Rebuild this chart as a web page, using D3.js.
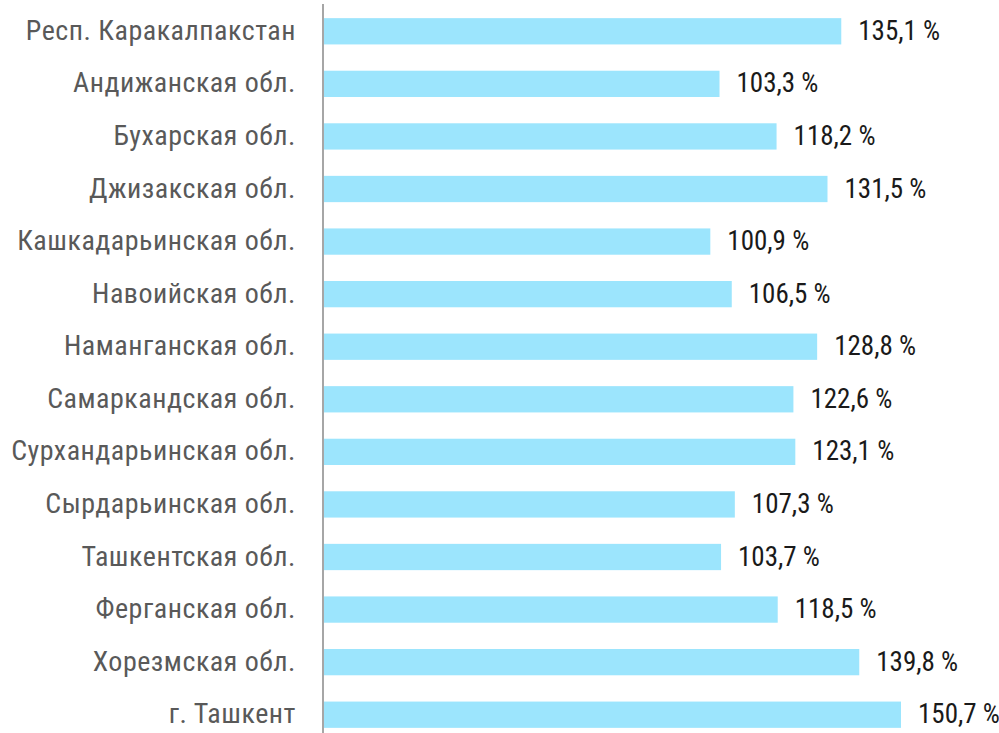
<!DOCTYPE html>
<html><head><meta charset="utf-8">
<script src="https://cdn.jsdelivr.net/npm/d3@7"></script>
<style>
html,body{margin:0;padding:0;background:#fff;}
svg text{font-family:"Roboto Condensed",Roboto,sans-serif;font-stretch:condensed;font-weight:400;}
</style></head>
<body><svg id="c" width="999" height="733"></svg>
<script>
const categories = ["Респ. Каракалпакстан","Андижанская обл.","Бухарская обл.","Джизакская обл.","Кашкадарьинская обл.","Навоийская обл.","Наманганская обл.","Самаркандская обл.","Сурхандарьинская обл.","Сырдарьинская обл.","Ташкентская обл.","Ферганская обл.","Хорезмская обл.","г. Ташкент"];
const values = [135.1,103.3,118.2,131.5,100.9,106.5,128.8,122.6,123.1,107.3,103.7,118.5,139.8,150.7];
const valueLabels = ["135,1 %","103,3 %","118,2 %","131,5 %","100,9 %","106,5 %","128,8 %","122,6 %","123,1 %","107,3 %","103,7 %","118,5 %","139,8 %","150,7 %"];

const svg = d3.select("#c");
const x = d3.scaleLinear().domain([0,150.7]).range([324,901]);
const y = d3.scaleBand().domain(categories).range([5,741]).paddingInner(0.5).paddingOuter(0.25);

svg.selectAll("rect.bar").data(values).join("rect")
  .attr("class","bar")
  .attr("x",x(0)).attr("y",(d,i)=>y(categories[i]))
  .attr("width",d=>x(d)-x(0)).attr("height",y.bandwidth())
  .attr("fill","#9ce5fd");

svg.append("line").attr("x1",323).attr("x2",323).attr("y1",4).attr("y2",733)
  .attr("stroke","#a6a6a6").attr("stroke-width",2);

svg.selectAll("text.cat").data(categories).join("text")
  .attr("class","cat")
  .attr("x",296).attr("y",d=>y(d)+y.bandwidth()/2+8.5)
  .attr("text-anchor","end").attr("font-size",28).attr("letter-spacing","0.5px").attr("fill","#595959")
  .text(d=>d);

svg.selectAll("text.val").data(values).join("text")
  .attr("class","val")
  .attr("x",d=>x(d)+17).attr("y",(d,i)=>y(categories[i])+y.bandwidth()/2+8.5)
  .attr("font-size",27).attr("fill","#1a1a1a")
  .text((d,i)=>valueLabels[i]);
</script></body></html>
